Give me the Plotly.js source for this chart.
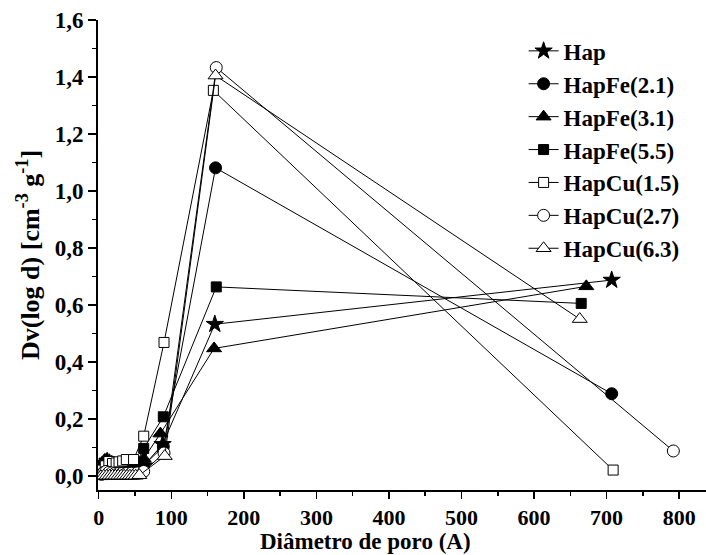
<!DOCTYPE html>
<html>
<head>
<meta charset="utf-8">
<script src="https://cdn.plot.ly/plotly-3.0.1.min.js"></script>
<style>html,body{margin:0;padding:0;background:#fff;}#chart{width:706px;height:555px;}</style>
</head>
<body>
<div id="chart"></div>
<script>
// Series names
const seriesNames = ["Hap", "HapFe(2.1)", "HapFe(3.1)", "HapFe(5.5)", "HapCu(1.5)", "HapCu(2.7)", "HapCu(6.3)"];

// Pore diameter (A) and Dv(log d) values per series
const hapX = [6, 9, 12, 15, 18, 22, 26, 30, 35, 40, 46, 53, 62, 88, 160, 707];
const hapY = [0.030, 0.045, 0.050, 0.045, 0.040, 0.035, 0.030, 0.028, 0.026, 0.025, 0.025, 0.027, 0.035, 0.110, 0.532, 0.687];

const fe21X = [5, 8, 11, 14, 17, 21, 25, 29, 34, 39, 45, 52, 62, 89, 161, 707];
const fe21Y = [0.030, 0.045, 0.048, 0.042, 0.036, 0.030, 0.026, 0.024, 0.022, 0.022, 0.024, 0.028, 0.037, 0.102, 1.081, 0.288];

const fe31X = [5, 8, 11, 14, 17, 21, 25, 29, 34, 39, 45, 52, 62, 85, 159, 672];
const fe31Y = [0.035, 0.055, 0.058, 0.050, 0.042, 0.036, 0.032, 0.030, 0.028, 0.028, 0.030, 0.036, 0.060, 0.148, 0.447, 0.665];

const fe55X = [5, 8, 11, 14, 17, 21, 25, 29, 34, 39, 45, 52, 62, 89, 162, 665];
const fe55Y = [0.030, 0.045, 0.050, 0.045, 0.040, 0.035, 0.032, 0.030, 0.030, 0.032, 0.036, 0.045, 0.096, 0.207, 0.663, 0.605];

const cu15X = [5, 9, 14, 19, 24, 28, 33, 38, 48, 62, 90, 158, 709];
const cu15Y = [0.020, 0.035, 0.050, 0.043, 0.045, 0.049, 0.052, 0.057, 0.057, 0.139, 0.468, 1.353, 0.020];

const cu27X = [4, 7, 10, 14, 18, 22, 27, 32, 38, 45, 53, 62, 90, 162, 792];
const cu27Y = [0.005, 0.012, 0.015, 0.012, 0.010, 0.008, 0.008, 0.008, 0.008, 0.009, 0.010, 0.015, 0.080, 1.433, 0.087];

const cu63X = [3, 7, 11, 15, 19, 23, 27, 31, 35, 39, 43, 47, 51, 56, 91, 161, 663];
const cu63Y = [-0.002, 0.000, 0.000, 0.000, 0.000, 0.000, 0.000, 0.000, 0.000, 0.000, 0.000, 0.000, 0.000, 0.002, 0.069, 1.405, 0.550];

// Axis titles
const xTitle = "Diâmetro de poro (A)";
const yTitle = "Dv(log d) [cm<sup>-3</sup> g<sup>-1</sup>]";

const xsList = [hapX, fe21X, fe31X, fe55X, cu15X, cu27X, cu63X];
const ysList = [hapY, fe21Y, fe31Y, fe55Y, cu15Y, cu27Y, cu63Y];
const symbols = ["star", "circle", "triangle-up", "square", "square", "circle", "triangle-up"];
const fills = ["black", "black", "black", "black", "white", "white", "white"];
const sizes = [13, 12, 13, 10, 10, 12, 13];

const traces = seriesNames.map((name, i) => ({
  type: "scatter",
  mode: "lines+markers",
  name: "<b>" + name + "</b>",
  x: xsList[i],
  y: ysList[i],
  line: {color: "black", width: 1},
  marker: {symbol: symbols[i], size: sizes[i], color: fills[i], line: {color: "black", width: 1}}
}));

const FONT = "Liberation Serif";
const MB = 65;
const PH = 555 - 20 - MB;

const layout = {
  width: 706,
  height: 555,
  margin: {l: 98, r: 0, t: 20, b: MB},
  paper_bgcolor: "white",
  plot_bgcolor: "white",
  separators: ", ",
  font: {family: FONT, size: 22, color: "black"},
  showlegend: true,
  legend: {
    x: 0.70, y: 0.98, xanchor: "left", yanchor: "top",
    bgcolor: "rgba(0,0,0,0)",
    font: {family: FONT, size: 23, color: "black"},
    tracegroupgap: 0,
    itemwidth: 30
  },
  annotations: [{
    xref: "paper", yref: "paper", x: 0.44, y: -MB / PH, xanchor: "center", yanchor: "bottom",
    showarrow: false, borderpad: 0, text: "<b>" + xTitle + "</b>",
    font: {family: FONT, size: 23, color: "black"}
  }],
  xaxis: {
    range: [-1, 837],
    showgrid: false, zeroline: false,
    showline: true, linecolor: "black", linewidth: 1.8,
    ticks: "outside", ticklen: 7, tickwidth: 1.5, tickcolor: "black",
    dtick: 100, tick0: 0,
    tickprefix: "<b>", ticksuffix: "</b>",
    minor: {ticks: "outside", ticklen: 4, tickwidth: 1.5, tickcolor: "black", dtick: 50, showgrid: false},
    tickfont: {family: FONT, size: 22, color: "black"}
  },
  yaxis: {
    range: [-0.05, 1.6],
    showgrid: false, zeroline: false,
    showline: true, linecolor: "black", linewidth: 1.8,
    ticks: "outside", ticklen: 8, tickwidth: 1.5, tickcolor: "black",
    dtick: 0.2, tick0: 0, tickformat: ".1f",
    tickprefix: "<b>", ticksuffix: "</b>",
    minor: {ticks: "outside", ticklen: 4, tickwidth: 1.5, tickcolor: "black", dtick: 0.1, showgrid: false},
    tickfont: {family: FONT, size: 23, color: "black"},
    title: {text: "<b>" + yTitle + "</b>", font: {family: FONT, size: 26, color: "black"}, standoff: 8}
  }
};

Plotly.newPlot("chart", traces, layout, {displayModeBar: false, staticPlot: true});
</script>
</body>
</html>
